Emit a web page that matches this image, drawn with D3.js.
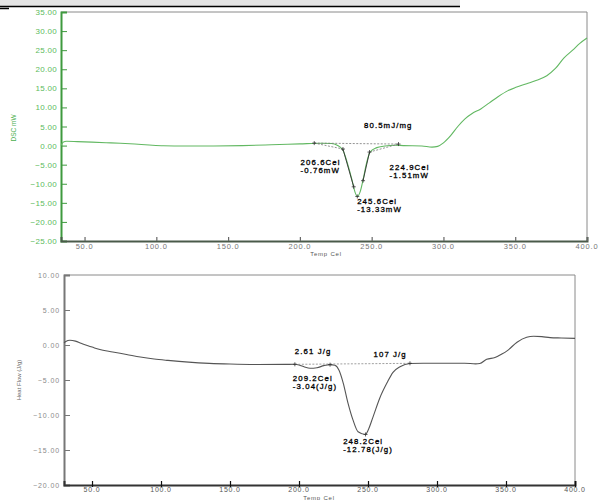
<!DOCTYPE html>
<html>
<head>
<meta charset="utf-8">
<script src="https://cdn.jsdelivr.net/npm/d3@7"></script>
<style>
  html, body { margin: 0; padding: 0; background: #fff; }
  svg { display: block; }
  text { font-family: "Liberation Sans", Arial, sans-serif; }
</style>
</head>
<body>
<svg id="chart" width="598" height="500"></svg>
<script>
// ---- DSC curve (mW) ----
const dscTemp = [33.6, 35, 37.5, 45, 55, 65, 75, 85, 95, 105, 120, 140, 160, 180, 200, 215, 222, 226, 230,
  233.5, 236.3, 238.4, 240, 241.9, 244, 246.1, 248.9, 253.1, 259.3, 266, 272, 285, 292, 296, 300, 305,
  310, 315, 320, 326, 332, 338, 345, 350, 358, 365, 372, 378, 384, 390, 395, 400];
const dscValue = [0.0, 0.9, 1.15, 1.05, 0.9, 0.75, 0.6, 0.4, 0.15, -0.05, -0.12, -0.1, 0.0, 0.2, 0.45, 0.62, 0.55, 0.1, -1.2,
  -5.1, -9.0, -12.2, -13.33, -12.2, -9.0, -5.1, -1.7, -0.6, -0.1, 0.1, 0.0, -0.1, -0.4, -0.2, 0.7, 2.6,
  5.0, 7.0, 8.4, 9.6, 11.2, 12.8, 14.4, 15.2, 16.2, 17.1, 18.3, 20.2, 23.0, 25.0, 26.8, 28.2];

// ---- Heat flow curve (J/g) ----
const hfTemp = [29.7, 31, 34, 38, 42, 46, 50, 55, 65, 75, 85, 95, 105, 120, 135, 150, 170, 190, 197, 200, 204, 208,
  213, 218, 222.5, 226, 229, 232, 235.5, 239.1, 242.8, 248.2, 250, 253.6, 258.7, 263.8, 268.1, 273.2, 280.4,
  290, 305, 320, 328, 331, 336, 342, 347, 351, 358, 365, 370, 376, 382, 390, 400];
const hfValue = [0.3, 0.5, 0.67, 0.55, 0.25, -0.05, -0.3, -0.62, -1.0, -1.35, -1.72, -2.0, -2.2, -2.45, -2.62, -2.72, -2.78, -2.77, -2.76, -2.85, -3.15, -3.33,
  -3.25, -2.95, -2.81, -2.9, -3.6, -5.4, -8.3, -10.7, -12.4, -12.78, -12.2, -10.3, -7.5, -5.4, -3.9, -3.1, -2.65,
  -2.6, -2.6, -2.6, -2.7, -2.65, -2.05, -1.8, -1.3, -0.8, 0.4, 1.1, 1.25, 1.2, 1.05, 1.0, 0.95];

// ---- tick values ----
const tempTicks = [50, 100, 150, 200, 250, 300, 350, 400];
const dscTicks = [-25, -20, -15, -10, -5, 0, 5, 10, 15, 20, 25, 30, 35];
const hfTicks = [-20, -15, -10, -5, 0, 5, 10];

// ---- peak analysis annotations ----
const dscBaseline = [[210, 0.65], [268.7, 0.4]];
const dscOnsetTangent = [[230, -0.9], [237.5, -10.8]];
const dscEndTangent = [[244, -9.2], [248.5, -1.7]];
const dscLeftGuide = [[210, 0.65], [230, -0.9]];
const dscRightGuide = [[248.5, -1.7], [268.7, 0.4]];
const dscMarkers = [[210, 0.65], [230, -0.9], [237.5, -10.8], [240, -13.33], [244, -9.2], [248.5, -1.7], [268.7, 0.4]];
const dscLabels = [
  { t: 244.7, v: 4.7, lines: ["80.5mJ/mg"] },
  { t: 200.5, v: -5.0, lines: ["206.6Cel", "-0.76mW"] },
  { t: 262.5, v: -6.4, lines: ["224.9Cel", "-1.51mW"] },
  { t: 239.9, v: -15.2, lines: ["245.6Cel", "-13.33mW"] }
];

const hfBaseline = [[197, -2.76], [280.4, -2.62]];
const hfMarkers = [[197, -2.76], [222.5, -2.81], [248.2, -12.78], [280.4, -2.62]];
const hfLabels = [
  { t: 197, v: -1.3, lines: ["2.61 J/g"] },
  { t: 254, v: -1.7, lines: ["107 J/g"] },
  { t: 195.5, v: -5.1, lines: ["209.2Cel", "-3.04(J/g)"] },
  { t: 232, v: -14.1, lines: ["248.2Cel", "-12.78(J/g)"] }
];

const svg = d3.select("#chart");

// window header strip
svg.append("rect").attr("x", 0).attr("y", 0).attr("width", 460).attr("height", 6).attr("fill", "#e4e4e4");
svg.append("line").attr("x1", 0).attr("x2", 460).attr("y1", 6.5).attr("y2", 6.5).attr("stroke", "#000").attr("stroke-width", 1.5);
svg.append("line").attr("x1", 0).attr("x2", 9).attr("y1", 8.5).attr("y2", 8.5).attr("stroke", "#000").attr("stroke-width", 1.5);

function panel(cfg) {
  const g = svg.append("g");
  const x = d3.scaleLinear().domain(cfg.xDomain).range([cfg.left, cfg.right]);
  const y = d3.scaleLinear().domain(cfg.yDomain).range([cfg.bottom, cfg.top]);

  // frame: top and right edges
  g.append("path")
    .attr("d", `M${cfg.left},${cfg.top}H${cfg.right}V${cfg.bottom}`)
    .attr("fill", "none").attr("stroke", cfg.frameColor).attr("stroke-width", 1);

  // y axis
  const yAxis = d3.axisRight(y).tickValues(cfg.yTicks).tickSize(6).tickFormat(() => "");
  const ya = g.append("g").attr("transform", `translate(${cfg.left},0)`).call(yAxis);
  ya.select(".domain").attr("stroke", cfg.yAxisColor).attr("stroke-width", 2);
  ya.selectAll(".tick line").attr("stroke", cfg.yAxisColor).attr("stroke-width", 1);
  g.selectAll(".ylab").data(cfg.yTicks).enter().append("text")
    .attr("x", cfg.left - 4).attr("y", d => y(d) + 3)
    .attr("text-anchor", "end").attr("font-size", cfg.yFont).attr("letter-spacing", cfg.yLetter)
    .attr("fill", cfg.yLabelColor).text(d => d3.format(".2f")(d));

  // x axis
  const xAxis = d3.axisTop(x).tickValues(tempTicks).tickSize(cfg.xTickIn).tickFormat(() => "");
  const xa = g.append("g").attr("transform", `translate(0,${cfg.bottom})`).call(xAxis);
  xa.select(".domain").attr("stroke", cfg.xAxisColor).attr("stroke-width", 2);
  xa.selectAll(".tick line").attr("stroke", cfg.xTickColor).attr("stroke-width", 1.2)
    .attr("y2", -cfg.xTickIn).attr("y1", cfg.xTickOut);
  g.selectAll(".xlab").data(tempTicks).enter().append("text")
    .attr("x", d => x(d)).attr("y", cfg.bottom + cfg.xLabelDy)
    .attr("text-anchor", "middle").attr("font-size", cfg.xFont).attr("letter-spacing", 0.8)
    .attr("fill", cfg.xLabelColor).text(d => d3.format(".1f")(d));

  // axis titles
  g.append("text").attr("x", cfg.xTitleX).attr("y", cfg.xTitleY)
    .attr("text-anchor", "middle").attr("font-size", 6).attr("letter-spacing", 0.8)
    .attr("fill", "#555").text("Temp Cel");
  g.append("text")
    .attr("transform", `translate(${cfg.yTitleX},${cfg.yTitleY}) rotate(-90)`)
    .attr("text-anchor", "middle").attr("font-size", cfg.yTitleFont)
    .attr("fill", cfg.yTitleColor).text(cfg.yTitle);

  const pt = d => [x(d[0]), y(d[1])];
  const seg = (pts, color, dash, w) => g.append("path")
    .attr("d", d3.line()(pts.map(pt)))
    .attr("fill", "none").attr("stroke", color).attr("stroke-width", w)
    .attr("stroke-dasharray", dash);

  // curve
  const line = d3.line().x((d, i) => x(cfg.temp[i])).y(d => y(d)).curve(d3.curveMonotoneX);
  g.append("path").datum(cfg.values).attr("d", line)
    .attr("fill", "none").attr("stroke", cfg.curveColor).attr("stroke-width", 1.1);

  cfg.guides.forEach(s => seg(s.pts, s.color, s.dash, s.w));

  // analysis markers
  g.selectAll(".mk").data(cfg.markers).enter().append("path")
    .attr("d", d => { const [px, py] = pt(d); return `M${px - 2},${py}H${px + 2}M${px},${py - 2}V${py + 2}`; })
    .attr("stroke", "#333").attr("stroke-width", 0.8);

  // annotation text
  cfg.labels.forEach(l => {
    const t = g.append("text").attr("x", x(l.t)).attr("y", y(l.v))
      .attr("font-family", "'DejaVu Sans', sans-serif")
      .attr("font-size", 7.8).attr("letter-spacing", 1.1)
      .attr("fill", "#000").attr("stroke", "#000").attr("stroke-width", 0.3);
    l.lines.forEach((s, i) => t.append("tspan").attr("x", x(l.t)).attr("dy", i === 0 ? 0 : cfg.lineGap).text(s));
  });
}

panel({
  left: 61, right: 587, top: 12, bottom: 241,
  xDomain: [33.6, 400], yDomain: [-25, 35],
  yTicks: dscTicks, temp: dscTemp, values: dscValue,
  frameColor: "#8a8a8a", yAxisColor: "#3f9a3f", yLabelColor: "#5dbb5d", yFont: 8, yLetter: 0.3,
  xAxisColor: "#4a5a4a", xTickColor: "#666", xTickIn: 4, xTickOut: 0, xLabelDy: 8, xFont: 7.5, xLabelColor: "#777",
  xTitleX: 326, xTitleY: 255.5,
  yTitle: "DSC mW", yTitleX: 16, yTitleY: 128, yTitleFont: 6.5, yTitleColor: "#4caf50",
  curveColor: "#62b862", lineGap: 8,
  guides: [
    { pts: dscBaseline, color: "#777", dash: "2,1.5", w: 0.8 },
    { pts: dscLeftGuide, color: "#777", dash: "2,1.5", w: 0.8 },
    { pts: dscRightGuide, color: "#777", dash: "2,1.5", w: 0.8 },
    { pts: dscOnsetTangent, color: "#333", dash: null, w: 0.9 },
    { pts: dscEndTangent, color: "#333", dash: null, w: 0.9 }
  ],
  markers: dscMarkers, labels: dscLabels
});

panel({
  left: 64, right: 575, top: 275, bottom: 485,
  xDomain: [29.7, 400], yDomain: [-20, 10],
  yTicks: hfTicks, temp: hfTemp, values: hfValue,
  frameColor: "#8a8a8a", yAxisColor: "#777", yLabelColor: "#8a8a8a", yFont: 7, yLetter: 0.9,
  xAxisColor: "#333", xTickColor: "#111", xTickIn: 4, xTickOut: 2, xLabelDy: 7, xFont: 7, xLabelColor: "#555",
  xTitleX: 319, xTitleY: 499.5,
  yTitle: "Heat Flow (J/g)", yTitleX: 21, yTitleY: 380, yTitleFont: 6, yTitleColor: "#666",
  curveColor: "#555", lineGap: 8,
  guides: [
    { pts: hfBaseline, color: "#888", dash: "2,1.5", w: 0.8 }
  ],
  markers: hfMarkers, labels: hfLabels
});
</script>
</body>
</html>
